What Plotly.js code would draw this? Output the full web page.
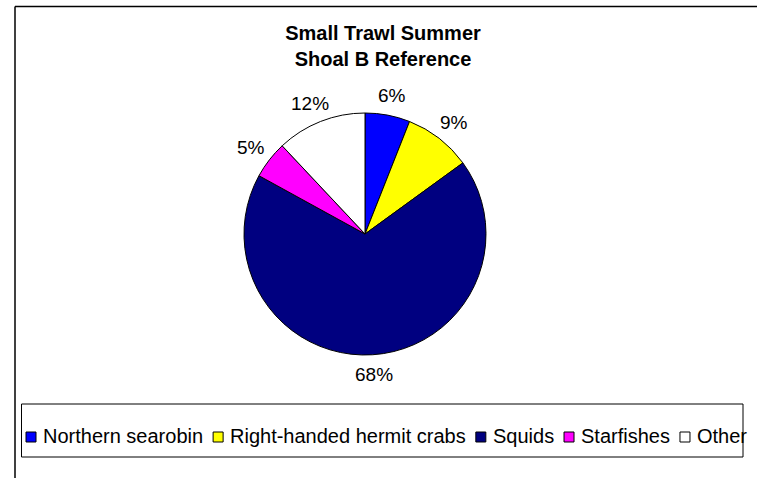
<!DOCTYPE html>
<html>
<head>
<meta charset="utf-8">
<script src="https://cdn.plot.ly/plotly-3.0.1.min.js"></script>
<style>html,body{margin:0;padding:0;background:#fff;} #chart{width:757px;height:478px;}</style>
</head>
<body>
<div id="chart"></div>
<script>
var categories = ["Northern searobin", "Right-handed hermit crabs", "Squids", "Starfishes", "Other"];
var percentages = [6, 9, 68, 5, 12];
var sliceColors = ["#0000FF", "#FFFF00", "#000080", "#FF00FF", "#FFFFFF"];
var chartTitle = "Small Trawl Summer<br>Shoal B Reference";

var W = 757, H = 478;
var FONT = "'Liberation Sans', Arial, sans-serif";
function px(x) { return x / W; }
function py(y) { return 1 - y / H; }

var ctx = document.createElement("canvas").getContext("2d");
function textWidth(s, size) { ctx.font = size + "px " + FONT; return ctx.measureText(s).width; }

// pie geometry (pixels)
var cx = 365, cy = 234, r = 121;

var trace = {
  type: "pie",
  labels: categories,
  values: percentages,
  sort: false,
  direction: "clockwise",
  rotation: 0,
  marker: { colors: sliceColors, line: { color: "#000000", width: 1 } },
  textinfo: "none",
  hoverinfo: "none",
  showlegend: false,
  domain: { x: [px(cx - r), px(cx + r)], y: [py(cy + r), py(cy - r)] },
  automargin: false
};

var annotations = [];
var shapes = [];

// percentage labels outside each slice, placed from the data values
var total = percentages.reduce(function (a, b) { return a + b; }, 0);
var cum = 0, labelSize = 19, labelH = 19, gap = 10;
percentages.forEach(function (v) {
  var mid = (cum + v / 2) / total * 2 * Math.PI;
  cum += v;
  var ux = Math.sin(mid), uy = -Math.cos(mid);
  var txt = v + "%";
  var w = textWidth(txt, labelSize);
  var lx = cx + (r + gap) * ux + ux * w / 2;
  var ly = cy + (r + gap) * uy + uy * labelH / 2;
  annotations.push({
    xref: "paper", yref: "paper", x: px(lx), y: py(ly),
    xanchor: "center", yanchor: "middle", showarrow: false,
    text: txt, font: { family: FONT, size: labelSize, color: "#000000" }
  });
});

// frame (top and left edges) and legend box
shapes.push({ type: "line", xref: "paper", yref: "paper", x0: px(15), y0: py(6.5), x1: px(757), y1: py(6.5), line: { color: "#000000", width: 1.5 } });
shapes.push({ type: "line", xref: "paper", yref: "paper", x0: px(15), y0: py(6.5), x1: px(15), y1: py(478), line: { color: "#000000", width: 1.5 } });
shapes.push({ type: "rect", xref: "paper", yref: "paper", x0: px(21.5), y0: py(404), x1: px(743), y1: py(457), line: { color: "#000000", width: 1 }, fillcolor: "rgba(0,0,0,0)" });

// legend entries
var legSize = 20, sq = 10, sqGap = 5, legY = 436;
var widths = categories.map(function (c) { return textWidth(c, legSize); });
var startX = 26, endX = 745;
var used = widths.reduce(function (a, b) { return a + b; }, 0) + categories.length * (sq + sqGap);
var itemGap = (endX - startX - used) / (categories.length - 1);
var x = startX;
categories.forEach(function (c, i) {
  shapes.push({ type: "rect", xref: "paper", yref: "paper",
    x0: px(x), x1: px(x + sq), y0: py(legY - sq / 2 + 1), y1: py(legY + sq / 2 + 1),
    fillcolor: sliceColors[i], line: { color: "#000000", width: 1 } });
  annotations.push({
    xref: "paper", yref: "paper", x: px(x + sq + sqGap), y: py(legY),
    xanchor: "left", yanchor: "middle", showarrow: false,
    text: c, font: { family: FONT, size: legSize, color: "#000000" }
  });
  x += sq + sqGap + widths[i] + itemGap;
});

var layout = {
  width: W, height: H,
  margin: { l: 0, r: 0, t: 0, b: 0 },
  paper_bgcolor: "#FFFFFF",
  plot_bgcolor: "#FFFFFF",
  showlegend: false,
  title: {
    text: chartTitle,
    font: { family: FONT, size: 20, color: "#000000", weight: "bold" },
    x: px(383), xanchor: "center",
    y: py(39.5), yanchor: "middle", yref: "container"
  },
  shapes: shapes,
  annotations: annotations
};

Plotly.newPlot("chart", [trace], layout, { staticPlot: true, displayModeBar: false });
</script>
</body>
</html>
